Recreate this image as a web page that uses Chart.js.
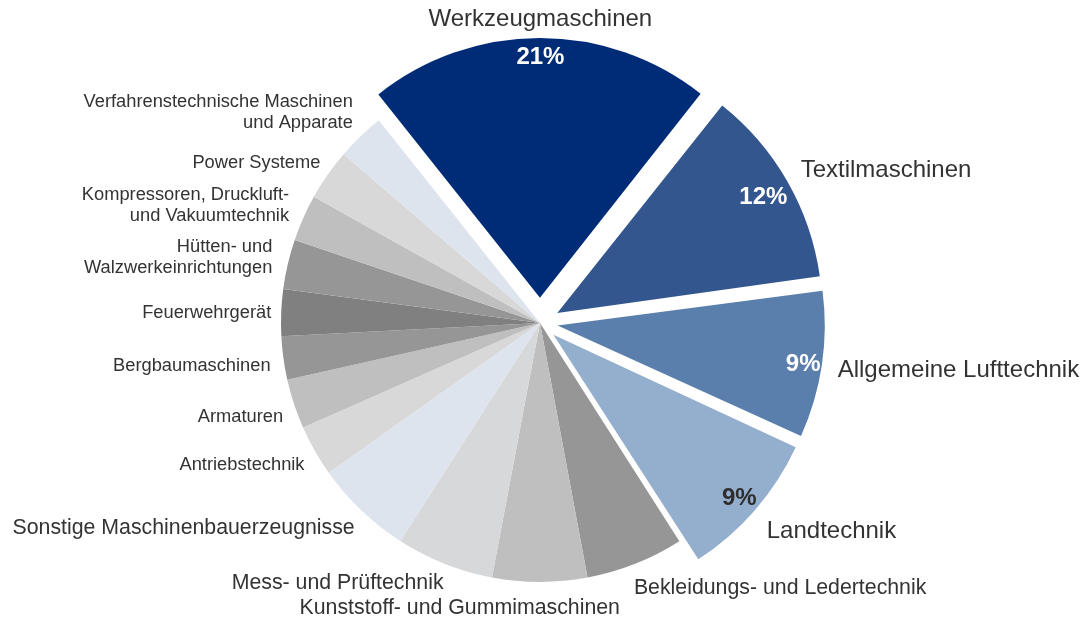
<!DOCTYPE html>
<html>
<head>
<meta charset="utf-8">
<script src="https://cdn.jsdelivr.net/npm/chart.js@4/dist/chart.umd.min.js"></script>
<style>
  html, body { margin: 0; padding: 0; background: #ffffff; }
  #wrap { width: 1082px; height: 619px; }
</style>
</head>
<body>
<div id="wrap"><canvas id="c" width="1082" height="619"></canvas></div>
<script>
// ---- data ----
const categories = [
  "Werkzeugmaschinen",
  "Textilmaschinen",
  "Allgemeine Lufttechnik",
  "Landtechnik",
  "Bekleidungs- und Ledertechnik",
  "Kunststoff- und Gummimaschinen",
  "Mess- und Prüftechnik",
  "Sonstige Maschinenbauerzeugnisse",
  "Antriebstechnik",
  "Armaturen",
  "Bergbaumaschinen",
  "Feuerwehrgerät",
  "Hütten- und\nWalzwerkeinrichtungen",
  "Kompressoren, Druckluft-\nund Vakuumtechnik",
  "Power Systeme",
  "Verfahrenstechnische Maschinen\nund Apparate"
];
const shares = [21.3, 12.2, 9.0, 9.1, 6.1, 5.9, 6.1, 6.1, 3.2, 3.1, 2.7, 2.9, 3.1, 2.9, 3.2, 3.0];
const showPercent = [true, true, true, true, false, false, false, false, false, false, false, false, false, false, false, false];

// ---- styles ----
const sliceColors = [
  "#002C77", "#34568F", "#5B7FAD", "#94AECE",
  "#969696", "#BFBFBF", "#D7D8DA", "#DEE4EE",
  "#D8D8D8", "#BFBFBF", "#969696", "#808080",
  "#969696", "#BFBFBF", "#D8D8D8", "#DEE4EE"
];
// desired explode distance in pixels
const explodePx = [26, 26, 26, 26, 0, 0, 0, 0, 0, 0, 0, 0, 0, 0, 0, 0];
const pctColors = ["#FFFFFF", "#FFFFFF", "#FFFFFF", "#2E2E2E"];
const labelLayout = [
  {size: 24,   align: "center", dx: 1,   dy: 2},
  {size: 24,   align: "left",   dx: -5,  dy: -1},
  {size: 24,   align: "left",   dx: -5,  dy: 2},
  {size: 24,   align: "left",   dx: -4,  dy: 7},
  {size: 21.3, align: "left",   dx: -9,  dy: 5},
  {size: 21.3, align: "center", dx: -80, dy: 5},
  {size: 21.3, align: "right",  dx: 7,   dy: 0},
  {size: 21.3, align: "right",  dx: 8,   dy: 3},
  {size: 18.3, align: "right",  dx: 8,   dy: 4},
  {size: 18.3, align: "right",  dx: 9,   dy: 6},
  {size: 18.3, align: "right",  dx: 8,   dy: 5},
  {size: 18.3, align: "right",  dx: 11,  dy: 1},
  {size: 18.3, align: "right",  dx: 5,   dy: -2},
  {size: 18.3, align: "right",  dx: 5,   dy: -4},
  {size: 18.3, align: "right",  dx: 10,  dy: 0},
  {size: 18.3, align: "right",  dx: 7,   dy: -9}
];
const pctNudge = [[1, -3], [-5, 5], [3, 3], [1, 3]];
const LABEL_GAP = 21;
const PCT_INSET = 22;
const FONT = "'Liberation Sans', Arial, Helvetica, sans-serif";

// Chart.js arc: translation = offset/4 * (1 + (1 - sin(min(PI, circumference))))
function arcShiftFactor(circ) {
  return (1 + (1 - Math.sin(Math.min(Math.PI, circ)))) / 4;
}
function sliceCirc(i) {
  const total = shares.reduce((a, b) => a + b, 0);
  return shares[i] / total * Math.PI * 2;
}

const labelPlugin = {
  id: 'sliceLabels',
  afterDatasetsDraw(chart) {
    const ctx = chart.ctx;
    const meta = chart.getDatasetMeta(0);
    const data = chart.data.datasets[0].data;
    const total = data.reduce((a, b) => a + b, 0);
    ctx.save();
    meta.data.forEach((arc, i) => {
      const p = arc.getProps(['x', 'y', 'startAngle', 'endAngle', 'outerRadius', 'circumference'], true);
      const off = (arc.options.offset || 0) * arcShiftFactor(p.circumference);
      const mid = (p.startAngle + p.endAngle) / 2;
      const cx = p.x + Math.cos(mid) * off;
      const cy = p.y + Math.sin(mid) * off;
      const L = labelLayout[i];
      const r = p.outerRadius + LABEL_GAP;
      const tx = cx + Math.cos(mid) * r + L.dx;
      const ty = cy + Math.sin(mid) * r + L.dy;
      const lines = categories[i].split("\n");
      const lh = L.size * 1.18;
      ctx.font = L.size + "px " + FONT;
      ctx.fillStyle = "#333333";
      ctx.textAlign = L.align;
      ctx.textBaseline = "middle";
      const y0 = ty - (lines.length - 1) * lh / 2;
      lines.forEach((ln, k) => ctx.fillText(ln, tx, y0 + k * lh));
      if (showPercent[i]) {
        const rp = p.outerRadius - PCT_INSET;
        const px = cx + Math.cos(mid) * rp + pctNudge[i][0];
        const py = cy + Math.sin(mid) * rp + pctNudge[i][1];
        ctx.font = "bold 24px " + FONT;
        ctx.fillStyle = pctColors[i];
        ctx.textAlign = "center";
        ctx.fillText(Math.round(data[i] / total * 100) + "%", px, py);
      }
    });
    ctx.restore();
  }
};

new Chart(document.getElementById('c'), {
  type: 'pie',
  data: {
    labels: categories,
    datasets: [{
      data: shares,
      backgroundColor: sliceColors,
      offset: (c) => explodePx[c.dataIndex] / arcShiftFactor(sliceCirc(c.dataIndex)),
      hoverOffset: 0,
      borderWidth: 0
    }]
  },
  options: {
    responsive: false,
    animation: false,
    rotation: -38.5,
    radius: 259,
    layout: { padding: { left: 0, right: 2, top: 27, bottom: 0 } },
    plugins: {
      legend: { display: false },
      tooltip: { enabled: false }
    },
    events: []
  },
  plugins: [labelPlugin]
});
</script>
</body>
</html>
